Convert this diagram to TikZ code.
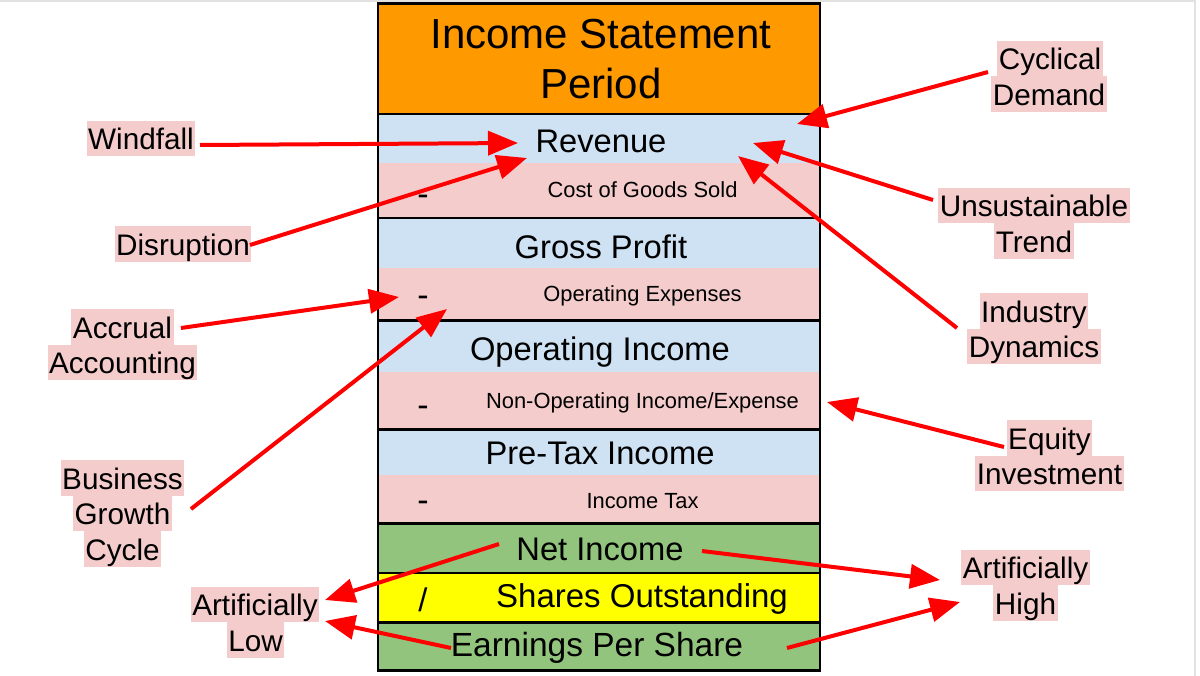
\documentclass[tikz,border=0pt]{standalone}
\usepackage{fontspec}
\setmainfont{Liberation Sans}
\usetikzlibrary{arrows.meta}
\definecolor{hdrorange}{HTML}{FF9900}
\definecolor{rowblue}{HTML}{CFE2F3}
\definecolor{rowpink}{HTML}{F4CCCC}
\definecolor{rowgreen}{HTML}{93C47D}
\definecolor{rowyellow}{HTML}{FFFF00}
\definecolor{arrred}{HTML}{FF0000}
\definecolor{hlpink}{HTML}{F4CCCC}
\definecolor{edgegray}{HTML}{E2E2E2}
\begin{document}
\begin{tikzpicture}[x=1pt,y=-1pt,
  hdr/.style={font=\fontsize{42}{48}\selectfont, anchor=base, inner sep=0pt},
  big/.style={font=\fontsize{32.7}{38}\selectfont, anchor=base, inner sep=0pt},
  small/.style={font=\fontsize{21.9}{26}\selectfont, anchor=base, inner sep=0pt},
  sign/.style={font=\fontsize{34}{38}\selectfont, anchor=base, inner sep=0pt},
  lbl/.style={fill=hlpink, font=\fontsize{29.7}{35}\selectfont, text height=27.5pt, text depth=5pt, inner xsep=1.5pt, inner ysep=1.5pt},
  arr/.style={draw=arrred, line width=4pt, -{Triangle[length=30pt,width=24pt]}},
  sepline/.style={line width=2.5pt, draw=black}
]
\useasboundingbox (0,0) rectangle (1200,676);
\fill[white] (0,0) rectangle (1200,676);
% faint screenshot edge
\draw[edgegray, line width=1.5pt] (0,1) -- (1195,1) -- (1195,676);

% table bands
\fill[hdrorange] (378,4) rectangle (820,114);
\fill[rowblue] (378,114) rectangle (820,163);
\fill[rowpink] (378,163) rectangle (820,218);
\fill[rowblue] (378,218) rectangle (820,268);
\fill[rowpink] (378,268) rectangle (820,320.5);
\fill[rowblue] (378,320.5) rectangle (820,372);
\fill[rowpink] (378,372) rectangle (820,429.5);
\fill[rowblue] (378,429.5) rectangle (820,475);
\fill[rowpink] (378,475) rectangle (820,523.5);
\fill[rowgreen] (378,523.5) rectangle (820,573);
\fill[rowyellow] (378,573) rectangle (820,622.5);
\fill[rowgreen] (378,622.5) rectangle (820,670);
\foreach \yy in {114,218,320.5,429.5,523.5,573,622.5}
  \draw[sepline] (378,\yy) -- (820,\yy);
\draw[sepline] (378,3.5) rectangle (820,670.5);

% table texts
\node[hdr] (title1) at (601,49) {Income Statement};
\node[hdr] (title2) at (601,99) {Period};
\node[big] (rev) at (601,152.5) {Revenue};
\node[sign] (m1) at (423,205.5) {-};
\node[small] (cogs) at (642.5,197.5) {Cost of Goods Sold};
\node[big] (gp) at (601,258.5) {Gross Profit};
\node[sign] (m2) at (423,306.5) {-};
\node[small] (opex) at (642.5,301.5) {Operating Expenses};
\node[big] (oi) at (600,360) {Operating Income};
\node[sign] (m3) at (423,416.5) {-};
\node[small] (nonop) at (642.5,409) {Non-Operating Income/Expense};
\node[big] (pti) at (600,464) {Pre-Tax Income};
\node[sign] (m4) at (423,511.5) {-};
\node[small] (tax) at (642.5,508) {Income Tax};
\node[big] (ni) at (600,560) {Net Income};
\node[big] (slash) at (423,611) {/};
\node[big, font=\fontsize{33}{38}\selectfont] (so) at (642,607.5) {Shares Outstanding};
\node[big, font=\fontsize{33.5}{38}\selectfont] (eps) at (597,656) {Earnings Per Share};

% left labels
\node[lbl] (windfall) at (141,138.5) {Windfall};
\node[lbl] (disruption) at (183,244) {Disruption};
\node[lbl] (accrual1) at (122.5,327) {Accrual};
\node[lbl] (accrual2) at (122.5,362.5) {Accounting};
\node[lbl] (bgc1) at (122.5,478) {Business};
\node[lbl] (bgc2) at (122.5,513.5) {Growth};
\node[lbl] (bgc3) at (122.5,549) {Cycle};
\node[lbl] (alow1) at (255,604.5) {Artificially};
\node[lbl] (alow2) at (255.5,640) {Low};

% right labels
\node[lbl] (cyc1) at (1050,58.5) {Cyclical};
\node[lbl] (cyc2) at (1049,94) {Demand};
\node[lbl] (uns1) at (1034,205.5) {Unsustainable};
\node[lbl] (uns2) at (1034,241) {Trend};
\node[lbl] (ind1) at (1034,311) {Industry};
\node[lbl] (ind2) at (1034,346.5) {Dynamics};
\node[lbl] (eq1) at (1049.5,438) {Equity};
\node[lbl] (eq2) at (1049.5,473.5) {Investment};
\node[lbl] (ahigh1) at (1025.5,567.5) {Artificially};
\node[lbl] (ahigh2) at (1025.5,603) {High};

% arrow endpoints
\coordinate (wS) at (200,145);   \coordinate (wT) at (518,143);
\coordinate (dS) at (250,245);   \coordinate (dT) at (527,158);
\coordinate (aS) at (181,328);   \coordinate (aT) at (399,297);
\coordinate (bS) at (191,509);   \coordinate (bT) at (447,309);
\coordinate (nlS) at (499,544);  \coordinate (nlT) at (325,600);
\coordinate (elS) at (451,648);  \coordinate (elT) at (325,621);
\coordinate (cS) at (988,72);    \coordinate (cT) at (797,124);
\coordinate (uS) at (933,200);   \coordinate (uT) at (753,143);
\coordinate (iS) at (957,328);   \coordinate (iT) at (738,156);
\coordinate (eS) at (1004,447);  \coordinate (eT) at (827,402);
\coordinate (nhS) at (702,551);  \coordinate (nhT) at (940,580);
\coordinate (ehS) at (787,648);  \coordinate (ehT) at (960,602);

\draw[arr] (wS) -- (wT);
\draw[arr] (dS) -- (dT);
\draw[arr] (aS) -- (aT);
\draw[arr] (bS) -- (bT);
\draw[arr] (nlS) -- (nlT);
\draw[arr] (elS) -- (elT);
\draw[arr] (cS) -- (cT);
\draw[arr] (uS) -- (uT);
\draw[arr] (iS) -- (iT);
\draw[arr] (eS) -- (eT);
\draw[arr] (nhS) -- (nhT);
\draw[arr] (ehS) -- (ehT);
\end{tikzpicture}
\end{document}
